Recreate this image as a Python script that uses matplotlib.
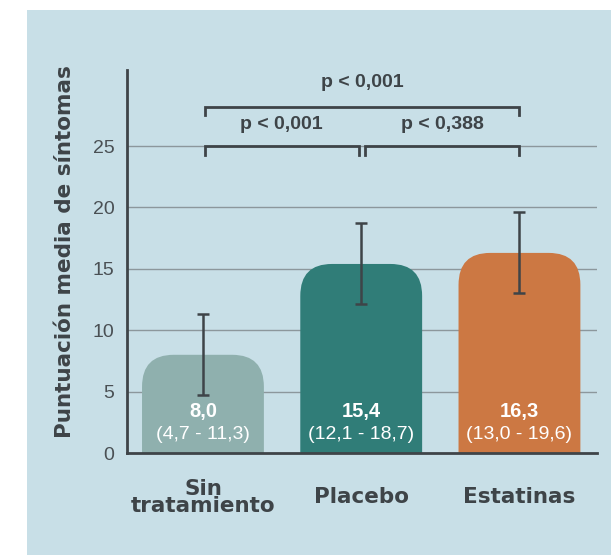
import numpy as np
import matplotlib
matplotlib.use("Agg")
import matplotlib.pyplot as plt
from matplotlib.patches import FancyBboxPatch, Rectangle

# medias e intervalos de confianza
grupos = ["Sin\ntratamiento", "Placebo", "Estatinas"]
medias = [8.0, 15.4, 16.3]
ic_bajo = [4.7, 12.1, 13.0]
ic_alto = [11.3, 18.7, 19.6]
colores = ["#8fb0ae", "#307d78", "#cc7843"]
etiq_media = ["8,0", "15,4", "16,3"]
etiq_ic = ["(4,7 - 11,3)", "(12,1 - 18,7)", "(13,0 - 19,6)"]
p_valores = ["p < 0,001", "p < 0,388", "p < 0,001"]

fondo = "#c8dfe7"
oscuro = "#3e4448"

fig = plt.figure(figsize=(6.11, 5.55), dpi=100)
fig.patch.set_facecolor("white")
fig.patches.append(Rectangle((27 / 611, 0), 1, 1 - 10 / 555, transform=fig.transFigure,
                             facecolor=fondo, edgecolor="none", zorder=-10))

ax = fig.add_axes([127 / 611, 1 - 453 / 555, (597 - 127) / 611, (453 - 70) / 555])
ax.set_facecolor("none")
ax.set_xlim(-0.48, 2.49)
ax.set_ylim(0, 31.2)

x = np.arange(len(grupos))
ancho = 0.77

for yv in [5, 10, 15, 20, 25]:
    ax.axhline(yv, color="#8c979c", lw=1.0, zorder=0)

# barras con esquinas superiores redondeadas (la base queda recortada por el eje)
for xi, m, c in zip(x, medias, colores):
    caja = FancyBboxPatch((xi - ancho / 2, -4), ancho, m + 4,
                          boxstyle="round,pad=0,rounding_size=0.2",
                          mutation_aspect=13, facecolor=c, edgecolor="none", zorder=2)
    ax.add_patch(caja)

err = [np.array(medias) - np.array(ic_bajo), np.array(ic_alto) - np.array(medias)]
ax.errorbar(x, medias, yerr=err, fmt="none", ecolor=oscuro, elinewidth=1.8,
            capsize=4.3, capthick=1.8, zorder=3)

for xi, em, ei in zip(x, etiq_media, etiq_ic):
    ax.text(xi, 3.35, em, ha="center", va="center", color="white",
            fontsize=14.5, fontweight="bold", family="Liberation Sans", zorder=4)
    ax.text(xi, 1.5, ei, ha="center", va="center", color="white",
            fontsize=14, family="Liberation Sans", zorder=4)

# corchetes de comparaciones
def corchete(x0, x1, y, texto, ty):
    ax.plot([x0, x0, x1, x1], [y - 0.7, y, y, y - 0.7], color=oscuro, lw=2.0,
            solid_joinstyle="miter", zorder=3, clip_on=False)
    ax.text((x0 + x1) / 2, ty, texto, ha="center", va="center", color=oscuro,
            fontsize=14, fontweight="bold", family="Liberation Sans")

corchete(0.01, 0.985, 25, p_valores[0], 26.8)
corchete(1.024, 2.0, 25, p_valores[1], 26.8)
corchete(0.01, 2.0, 28.2, p_valores[2], 30.15)

for s in ["top", "right"]:
    ax.spines[s].set_visible(False)
for s in ["left", "bottom"]:
    ax.spines[s].set_color(oscuro)
    ax.spines[s].set_linewidth(2.0)

ax.set_yticks([0, 5, 10, 15, 20, 25])
ax.tick_params(axis="y", length=0, pad=9, labelsize=14, labelcolor="#4a5054")
for lab in ax.get_yticklabels():
    lab.set_family("Liberation Sans")

ax.set_xticks(x)
ax.set_xticklabels(grupos)
ax.tick_params(axis="x", length=0, pad=32)
for lab in ax.get_xticklabels():
    lab.set_va("center")
    lab.set_fontsize(15.5)
    lab.set_fontweight("bold")
    lab.set_color(oscuro)
    lab.set_linespacing(0.85)

fig.text(65 / 611, 1 - 252 / 555, "Puntuación media de síntomas", rotation=90,
         ha="center", va="center", fontsize=15.5, fontweight="bold", color=oscuro)

fig.savefig("out.png", dpi=100, facecolor=fig.get_facecolor())
